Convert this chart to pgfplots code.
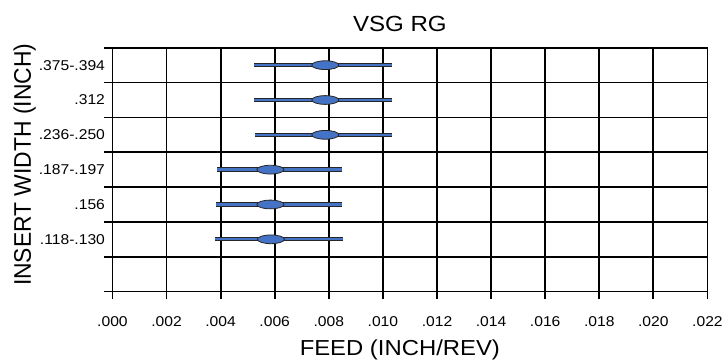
\documentclass[border=0pt]{standalone}
\usepackage{fontspec}
\setmainfont[FakeStretch=1.1]{Liberation Sans}
\newfontfamily\plainsans{Liberation Sans}
\usepackage{pgfplots}
\usepackage{pgfplotstable}
\pgfplotsset{compat=1.18}

\definecolor{barblue}{HTML}{4472C4}

% flat ellipse used as the marker for the typical feed
\pgfdeclareplotmark{hellipse}{%
  \pgfpathellipse{\pgfpointorigin}{\pgfqpoint{13.6bp}{0bp}}{\pgfqpoint{0bp}{4.4bp}}%
  \pgfusepathqfillstroke}

% feed range per insert width: row position, min, typical, max (inch/rev)
\pgfplotstableread{
y    lo       mid      hi
6.5  0.00525  0.00787  0.01033
5.5  0.00525  0.00787  0.01035
4.5  0.00528  0.00787  0.01033
3.5  0.00388  0.00584  0.00847
2.5  0.00384  0.00584  0.00850
1.5  0.00380  0.00586  0.00852
}\feedrows

\begin{document}
\begin{tikzpicture}
\begin{axis}[
  scale only axis,
  width=598bp, height=245bp,
  xmin=0, xmax=0.022, ymin=0, ymax=7,
  xtick={0,0.002,0.004,0.006,0.008,0.010,0.012,0.014,0.016,0.018,0.020,0.022},
  xticklabels={\mbox{.000},\mbox{.002},\mbox{.004},\mbox{.006},\mbox{.008},\mbox{.010},
    \mbox{.012},\mbox{.014},\mbox{.016},\mbox{.018},\mbox{.020},\mbox{.022}},
  scaled x ticks=false,
  xticklabel style={anchor=base, yshift=-27bp},
  ytick={0,1,2,3,4,5,6,7},
  yticklabels={},
  extra y ticks={1.5,2.5,3.5,4.5,5.5,6.5},
  extra y tick labels={\mbox{.118-.130},\mbox{.156},\mbox{.187-.197},\mbox{.236-.250},\mbox{.312},\mbox{.375-.394}},
  extra y tick style={major tick length=0pt, grid=none,
    yticklabel style={xshift=-4bp}},
  grid=major,
  major grid style={black, line width=1.8bp},
  axis line style={black, line width=1.8bp},
  tick style={black, line width=1.8bp},
  major tick length=8bp,
  tick align=outside,
  xtick pos=left, ytick pos=left,
  ticklabel style={font=\fontsize{14.3bp}{17bp}\selectfont},
  title={VSG RG},
  title style={at={(axis description cs:0.483,1)}, anchor=base, yshift=10.3bp,
    font=\fontsize{22bp}{26bp}\selectfont},
  xlabel={FEED (INCH/REV)},
  xlabel style={at={(axis description cs:0.483,0)}, anchor=base, yshift=-64bp,
    font=\fontsize{21.8bp}{26bp}\selectfont},
  ylabel={INSERT WIDTH (INCH)},
  ylabel style={at={(axis description cs:-0.137,0.52)}, anchor=base,
    rotate=0, yscale=1.05, font=\plainsans\fontsize{23bp}{27bp}\selectfont},
  clip=false,
]
% dark outline of each range bar
\addplot[draw=none, mark=none,
  error bars/.cd, x dir=both, x explicit, error mark=none,
  error bar style={line width=4.4bp, color=black!85}]
  table[x=mid, y=y,
    x error plus expr=\thisrow{hi}-\thisrow{mid},
    x error minus expr=\thisrow{mid}-\thisrow{lo}] {\feedrows};
% blue core of each range bar, with the typical-feed ellipse
\addplot[draw=none, mark=hellipse,
  mark options={fill=barblue, draw=black!85, line width=0.8bp},
  error bars/.cd, x dir=both, x explicit, error mark=none,
  error bar style={line width=2.4bp, color=barblue}]
  table[x=mid, y=y,
    x error plus expr=\thisrow{hi}-\thisrow{mid},
    x error minus expr=\thisrow{mid}-\thisrow{lo}] {\feedrows};
\end{axis}
\path[use as bounding box] (-113bp,-67bp) rectangle (613bp,293bp);
\end{tikzpicture}
\end{document}
